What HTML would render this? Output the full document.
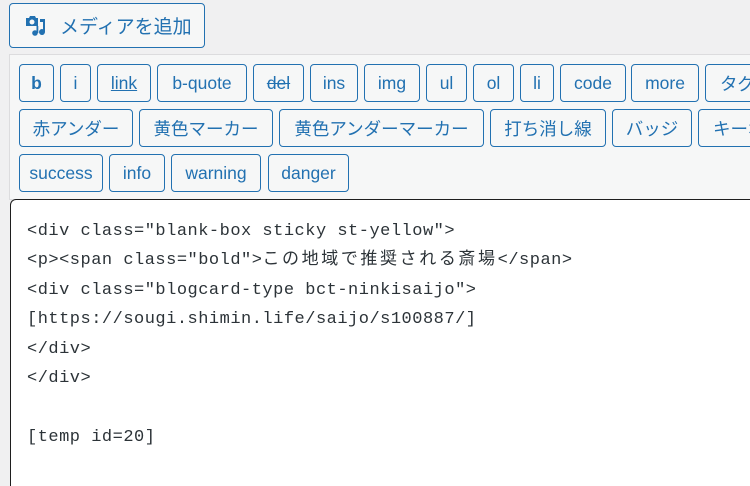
<!DOCTYPE html>
<html><head><meta charset="utf-8"><style>
html,body{margin:0;padding:0;width:750px;height:486px;overflow:hidden;background:#f0f0f1;font-family:"Liberation Sans","Noto Sans CJK JP",sans-serif;}
#wrap{position:relative;width:750px;height:486px;overflow:hidden;}
.b{position:absolute;box-sizing:border-box;border:1px solid #2271b1;border-radius:4px;background:#f6f7f7;color:#2271b1;font-size:17.5px;display:flex;align-items:center;justify-content:center;white-space:nowrap;overflow:hidden;height:38px;}
#media{left:9px;top:3px;width:196px;height:45px;font-size:19px;justify-content:flex-start;padding-left:14px;}
#tb{position:absolute;left:9px;top:54px;width:741px;height:146px;background:#f6f7f7;border:1px solid #dcdcde;border-right:none;box-sizing:border-box;}
#ta{position:absolute;left:10px;top:199px;width:740px;height:287px;background:#fff;border:1px solid #1e1e1e;border-right:none;border-bottom:none;border-top-left-radius:6px;box-sizing:border-box;}
pre{position:absolute;left:27px;top:217px;margin:0;font-family:"Liberation Mono",monospace;font-size:17px;letter-spacing:0.5px;line-height:29.4px;color:#2c3338;}
.j{font-family:"Noto Sans CJK JP",sans-serif;letter-spacing:2.6px;line-height:1;}
</style></head><body><div id="wrap">
<div class="b" id="media"><svg width="24" height="24" viewBox="0 0 24 24" style="margin-right:12px"><path fill="#2271b1" d="M2 4h3l1-2h5l1 2h2v8H2z"/><circle cx="8" cy="8" r="2.5" fill="#f6f7f7"/><path fill="#2271b1" d="M16 5h5v13a3 3 0 1 1-2-2.8V8h-3z"/><circle cx="11" cy="19" r="2.8" fill="#2271b1"/><rect x="12.5" y="12" width="1.8" height="7" fill="#2271b1"/></svg>メディアを追加</div>
<div id="tb"></div>
<div class="b" style="left:19px;top:64px;width:35px;font-weight:bold">b</div>
<div class="b" style="left:60px;top:64px;width:31px">i</div>
<div class="b" style="left:97px;top:64px;width:54px;text-decoration:underline">link</div>
<div class="b" style="left:157px;top:64px;width:90px">b-quote</div>
<div class="b" style="left:253px;top:64px;width:51px;text-decoration:line-through">del</div>
<div class="b" style="left:310px;top:64px;width:48px">ins</div>
<div class="b" style="left:364px;top:64px;width:56px">img</div>
<div class="b" style="left:426px;top:64px;width:41px">ul</div>
<div class="b" style="left:473px;top:64px;width:41px">ol</div>
<div class="b" style="left:520px;top:64px;width:34px">li</div>
<div class="b" style="left:560px;top:64px;width:66px">code</div>
<div class="b" style="left:631px;top:64px;width:68px">more</div>
<div class="b" style="left:705px;top:64px;width:80px;justify-content:flex-start;padding-left:14px">タグ</div>
<div class="b" style="left:19px;top:109px;width:114px">赤アンダー</div>
<div class="b" style="left:139px;top:109px;width:134px">黄色マーカー</div>
<div class="b" style="left:279px;top:109px;width:205px">黄色アンダーマーカー</div>
<div class="b" style="left:490px;top:109px;width:116px">打ち消し線</div>
<div class="b" style="left:612px;top:109px;width:80px">バッジ</div>
<div class="b" style="left:698px;top:109px;width:90px;justify-content:flex-start;padding-left:14px">キーボード</div>
<div class="b" style="left:19px;top:154px;width:84px">success</div>
<div class="b" style="left:109px;top:154px;width:56px">info</div>
<div class="b" style="left:171px;top:154px;width:90px">warning</div>
<div class="b" style="left:268px;top:154px;width:81px">danger</div>
<div id="ta"></div>
<pre>&lt;div class="blank-box sticky st-yellow"&gt;
&lt;p&gt;&lt;span class="bold"&gt;<span class="j">この地域で推奨される斎場</span>&lt;/span&gt;
&lt;div class="blogcard-type bct-ninkisaijo"&gt;
[https://sougi.shimin.life/saijo/s100887/]
&lt;/div&gt;
&lt;/div&gt;

[temp id=20]</pre>
</div></body></html>
